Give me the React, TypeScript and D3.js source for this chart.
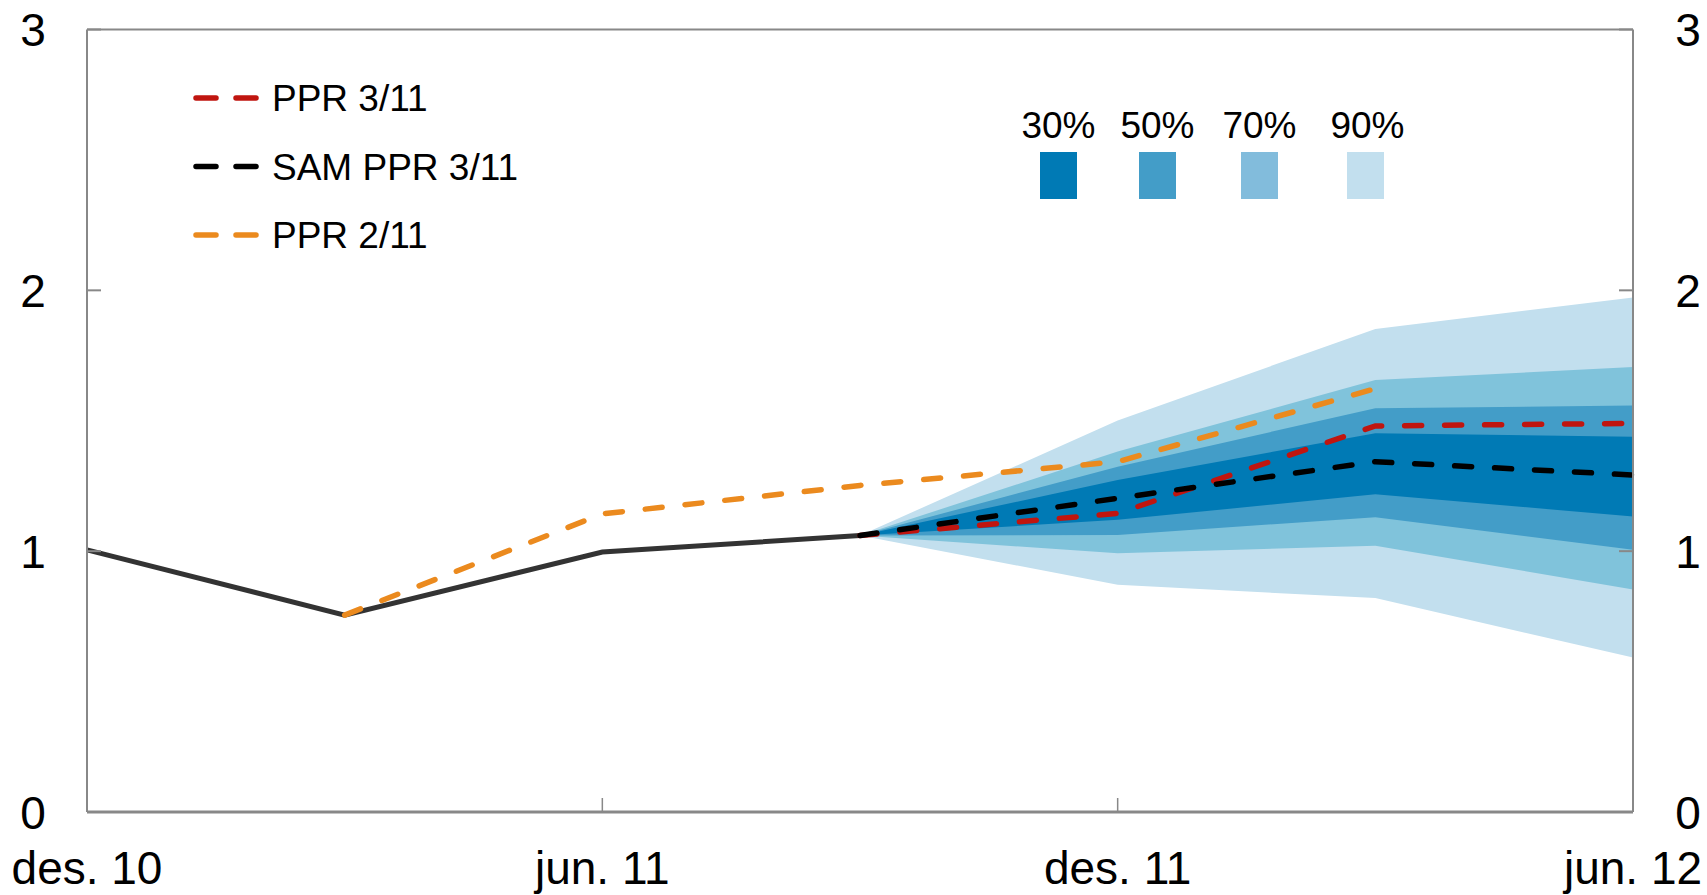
import React from "react";
import * as d3 from "d3";

const periods = ["des. 10", "mar. 11", "jun. 11", "sep. 11", "des. 11", "mar. 12", "jun. 12"];
const xTickLabels = ["des. 10", "jun. 11", "des. 11", "jun. 12"];
const yTicks = [0, 1, 2, 3];

// historical (index 0..3)
const history = [1.005, 0.755, 0.997, 1.06];
// PPR 2/11 (index 1..5)
const ppr211 = [0.755, 1.143, 1.252, 1.343, 1.623];
// PPR 3/11 (index 3..6)
const ppr311 = [1.06, 1.145, 1.48, 1.49];
// SAM PPR 3/11 (index 3..6)
const sam311 = [1.06, 1.203, 1.343, 1.292];

// fan bands (index 3..6): lower/upper
const fan90Lo = [1.06, 0.871, 0.82, 0.592];
const fan90Hi = [1.06, 1.501, 1.852, 1.973];
const fan70Lo = [1.06, 0.992, 1.021, 0.853];
const fan70Hi = [1.06, 1.382, 1.656, 1.706];
const fan50Lo = [1.06, 1.062, 1.13, 1.005];
const fan50Hi = [1.06, 1.324, 1.548, 1.558];
const fan30Lo = [1.06, 1.12, 1.218, 1.133];
const fan30Hi = [1.06, 1.273, 1.452, 1.439];

const bandLabels = ["30%", "50%", "70%", "90%"];
const bandColors = ["#007ab5", "#439dc8", "#80c3db", "#c2dfee"];
const legendSwatchColors = ["#007ab5", "#439dc8", "#82bcdc", "#c2dfee"];

const seriesNames = ["PPR 3/11", "SAM PPR 3/11", "PPR 2/11"];
const seriesColors = ["#c0150f", "#000000", "#eb8a1e"];

const W = 1707;
const H = 895;
const L = 87;
const R = 1633;
const T = 29.5;
const B = 812;

export default function App() {
  const x = d3.scaleLinear().domain([0, periods.length - 1]).range([L, R]);
  const y = d3.scaleLinear().domain([0, 3]).range([B, T]);

  const line = d3
    .line<[number, number]>()
    .x((d) => x(d[0]))
    .y((d) => y(d[1]));
  const area = d3
    .area<[number, number, number]>()
    .x((d) => x(d[0]))
    .y0((d) => y(d[1]))
    .y1((d) => y(d[2]));

  const mk = (arr: number[], start: number) => arr.map((v, i) => [start + i, v] as [number, number]);
  const band = (lo: number[], hi: number[]) =>
    lo.map((v, i) => [3 + i, v, hi[i]] as [number, number, number]);

  const bands = [
    { lo: fan90Lo, hi: fan90Hi, c: bandColors[3] },
    { lo: fan70Lo, hi: fan70Hi, c: bandColors[2] },
    { lo: fan50Lo, hi: fan50Hi, c: bandColors[1] },
    { lo: fan30Lo, hi: fan30Hi, c: bandColors[0] },
  ];

  const font = "'Liberation Sans', Arial, sans-serif";
  const axisColor = "#888888";
  const dash = "17 23";
  const lw = 5.5;

  const xTickIdx = [0, 2, 4, 6];

  return (
    <svg
      width={W}
      height={H}
      style={{ position: "absolute", left: 0, top: 0, background: "#fff" }}
      fontFamily={font}
    >
      {bands.map((b, i) => (
        <path key={i} d={area(band(b.lo, b.hi)) || ""} fill={b.c} stroke="none" />
      ))}

      <path d={line(mk(history, 0)) || ""} fill="none" stroke="#333333" strokeWidth={5} />
      <path
        d={line(mk(ppr211, 1)) || ""}
        fill="none"
        stroke={seriesColors[2]}
        strokeWidth={lw}
        strokeDasharray={dash}
        strokeLinecap="round"
      />
      <path
        d={line(mk(ppr311, 3)) || ""}
        fill="none"
        stroke={seriesColors[0]}
        strokeWidth={lw}
        strokeDasharray={dash}
        strokeLinecap="round"
      />
      <path
        d={line(mk(sam311, 3)) || ""}
        fill="none"
        stroke={seriesColors[1]}
        strokeWidth={lw}
        strokeDasharray={dash}
        strokeLinecap="round"
      />

      {/* frame */}
      <line x1={L} x2={R} y1={T} y2={T} stroke={axisColor} strokeWidth={2} />
      <line x1={L} x2={L} y1={T} y2={B} stroke={axisColor} strokeWidth={2} />
      <line x1={R} x2={R} y1={T} y2={B} stroke={axisColor} strokeWidth={2} />
      <line x1={L} x2={R} y1={B} y2={B} stroke={axisColor} strokeWidth={3} />

      {/* y ticks */}
      {yTicks.map((t) => (
        <g key={t}>
          <line x1={L} x2={L + 14} y1={y(t)} y2={y(t)} stroke={axisColor} strokeWidth={2} />
          <line x1={R - 14} x2={R} y1={y(t)} y2={y(t)} stroke={axisColor} strokeWidth={2} />
          <text x={33} y={y(t)} dy="0.36em" fontSize={46} textAnchor="middle" fill="#000">
            {t}
          </text>
          <text x={1688} y={y(t)} dy="0.36em" fontSize={46} textAnchor="middle" fill="#000">
            {t}
          </text>
        </g>
      ))}

      {/* x ticks */}
      {xTickIdx.map((idx, i) => (
        <g key={idx}>
          <line x1={x(idx)} x2={x(idx)} y1={B} y2={B - 14} stroke={axisColor} strokeWidth={1.5} />
          <text x={x(idx)} y={884} fontSize={46} textAnchor="middle" fill="#000">
            {xTickLabels[i]}
          </text>
        </g>
      ))}

      {/* series legend */}
      {seriesNames.map((n, i) => {
        const ly = 98 + i * 68.5;
        return (
          <g key={n}>
            <line
              x1={196}
              x2={256}
              y1={ly}
              y2={ly}
              stroke={seriesColors[i]}
              strokeWidth={lw}
              strokeDasharray="20 20"
              strokeLinecap="round"
            />
            <text x={272} y={ly} dy="0.36em" fontSize={37} fill="#000">
              {n}
            </text>
          </g>
        );
      })}

      {/* band legend */}
      {bandLabels.map((lab, i) => {
        const sx = [1040, 1139, 1241, 1347][i];
        return (
          <g key={lab}>
            <rect x={sx} y={152} width={37} height={47} fill={legendSwatchColors[i]} />
            <text x={sx + 18.5 + (i === 3 ? 2 : 0)} y={138} fontSize={37} textAnchor="middle" fill="#000">
              {lab}
            </text>
          </g>
        );
      })}
    </svg>
  );
}
